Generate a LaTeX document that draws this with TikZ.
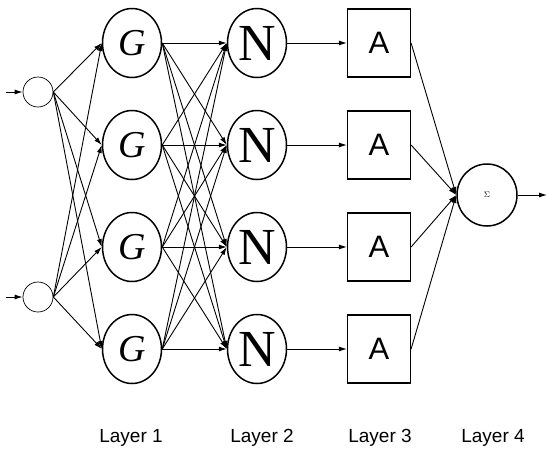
\documentclass[tikz,border=0pt]{standalone}
\usepackage{fontspec}
\setmainfont{Liberation Serif}
\setsansfont{Liberation Sans}
\usetikzlibrary{shapes.geometric,arrows.meta}

\tikzstyle{inp}=[draw,circle,line width=0.7pt,minimum size=30pt,inner sep=0pt]
\tikzstyle{unit}=[draw,ellipse,line width=1.5pt,minimum width=59pt,minimum height=69pt,inner sep=0pt]
\tikzstyle{blk}=[draw,rectangle,line width=1.2pt,minimum width=63pt,minimum height=68pt,inner sep=0pt,font=\sffamily\fontsize{31}{31}\selectfont]
\tikzstyle{link}=[-{Latex[length=8pt,width=5pt]},line width=0.9pt]
\tikzstyle{lbl}=[anchor=base,font=\sffamily\fontsize{19}{19}\selectfont]
\newcommand{\layer}[3]{\node[lbl] (#1) at (#2,442) {Layer #3};}

\begin{document}
\begin{tikzpicture}[x=1pt,y=-1pt]
    \useasboundingbox (0,0) rectangle (547,448);

    % inputs
    \node[inp] (in1) at (38,92) {};
    \node[inp] (in2) at (38,297) {};
    \coordinate (x1) at (6,92);
    \coordinate (x2) at (6,297);

    % layers 1 to 3
    \foreach \i/\y in {1/43,2/145,3/247,4/349}{
        \node[unit,font=\fontsize{38}{38}\selectfont] (g\i) at (132,\y) {\textit{G}};
        \node[unit,font=\fontsize{52}{52}\selectfont] (n\i) at (257,\y) {N};
        \node[blk] (a\i) at (379,\y) {A};
    }

    % layer 4
    \node[unit,minimum width=60pt,minimum height=62pt,font=\fontsize{8}{8}\selectfont] (sum) at (487,195) {$\Sigma$};
    \coordinate (y) at (547,195);

    \draw[link] (x1) -- (in1);
    \draw[link] (x2) -- (in2);
    \foreach \k in {1,2}
        \foreach \i in {1,...,4}
            \draw[link] (in\k.east) -- (g\i.west);
    \foreach \i in {1,...,4}{
        \foreach \j in {1,...,4}
            \draw[link] (g\i.east) -- (n\j.west);
        \draw[link] (n\i.east) -- (a\i.west);
        \draw[link] (a\i.east) -- (sum.west);
    }
    \draw[link] (sum) -- (y);

    \layer{l1}{131}{1}
    \layer{l2}{262}{2}
    \layer{l3}{380}{3}
    \layer{l4}{493}{4}
\end{tikzpicture}
\end{document}
